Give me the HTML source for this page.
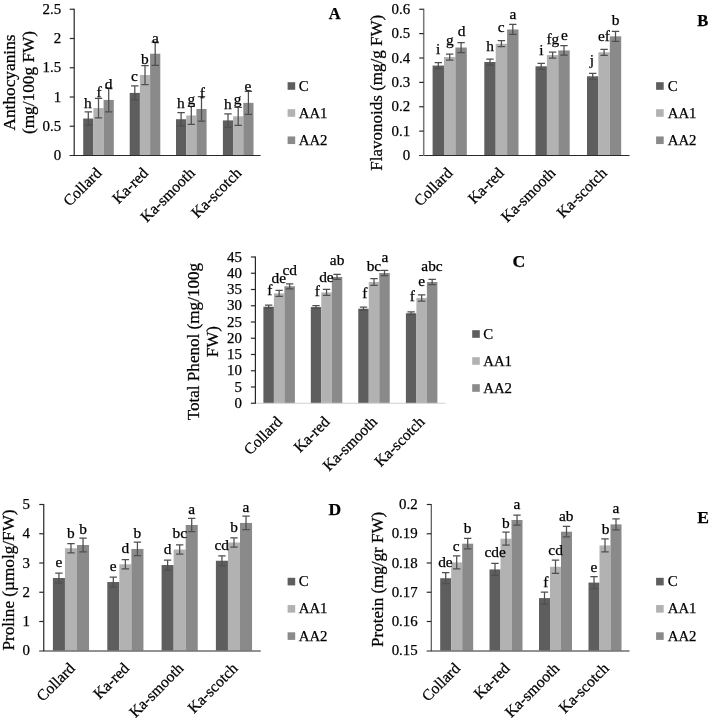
<!DOCTYPE html>
<html lang="en">
<head>
<meta charset="utf-8">
<title>Figure: biochemical traits of kale cultivars</title>
<style>
html,body{margin:0;padding:0;background:#fff;}
body{width:709px;height:718px;overflow:hidden;}
svg{display:block;filter:grayscale(1);}
svg text{font-family:"Liberation Serif", "Times New Roman", serif;fill:#000000;stroke:#000;stroke-width:0.25px;}
</style>
</head>
<body>
<svg width="709" height="718" viewBox="0 0 709 718">
<rect x="0" y="0" width="709" height="718" fill="#ffffff"/>
<g id="panel-A">
<rect x="83.2" y="118.53" width="10.2" height="36.97" fill="#5e5e5e"/>
<rect x="93.4" y="108.11" width="10.2" height="47.39" fill="#b2b2b2"/>
<rect x="103.6" y="99.93" width="10.2" height="55.57" fill="#8a8a8a"/>
<rect x="129.7" y="92.91" width="10.2" height="62.59" fill="#5e5e5e"/>
<rect x="139.9" y="75" width="10.2" height="80.5" fill="#b2b2b2"/>
<rect x="150.1" y="53.71" width="10.2" height="101.79" fill="#8a8a8a"/>
<rect x="176" y="119.23" width="10.2" height="36.27" fill="#5e5e5e"/>
<rect x="186.2" y="115.49" width="10.2" height="40.01" fill="#b2b2b2"/>
<rect x="196.4" y="108.99" width="10.2" height="46.51" fill="#8a8a8a"/>
<rect x="222.9" y="120.4" width="10.2" height="35.1" fill="#5e5e5e"/>
<rect x="233.1" y="116.31" width="10.2" height="39.19" fill="#b2b2b2"/>
<rect x="243.3" y="102.85" width="10.2" height="52.65" fill="#8a8a8a"/>
<path d="M88.3 111.93V125.13M84.6 111.93H92M84.6 125.13H92" stroke="#4f4f4f" stroke-width="1.25" fill="none"/>
<path d="M98.5 98.36V117.86M94.8 98.36H102.2M94.8 117.86H102.2" stroke="#4f4f4f" stroke-width="1.25" fill="none"/>
<path d="M108.7 87.93V111.93M105 87.93H112.4M105 111.93H112.4" stroke="#4f4f4f" stroke-width="1.25" fill="none"/>
<path d="M134.8 85.91V99.91M131.1 85.91H138.5M131.1 99.91H138.5" stroke="#4f4f4f" stroke-width="1.25" fill="none"/>
<path d="M145 65.5V84.5M141.3 65.5H148.7M141.3 84.5H148.7" stroke="#4f4f4f" stroke-width="1.25" fill="none"/>
<path d="M155.2 42.11V65.31M151.5 42.11H158.9M151.5 65.31H158.9" stroke="#4f4f4f" stroke-width="1.25" fill="none"/>
<path d="M181.1 112.53V125.93M177.4 112.53H184.8M177.4 125.93H184.8" stroke="#4f4f4f" stroke-width="1.25" fill="none"/>
<path d="M191.3 106.49V124.49M187.6 106.49H195M187.6 124.49H195" stroke="#4f4f4f" stroke-width="1.25" fill="none"/>
<path d="M201.5 96.74V121.24M197.8 96.74H205.2M197.8 121.24H205.2" stroke="#4f4f4f" stroke-width="1.25" fill="none"/>
<path d="M228 113.8V127M224.3 113.8H231.7M224.3 127H231.7" stroke="#4f4f4f" stroke-width="1.25" fill="none"/>
<path d="M238.2 107.31V125.31M234.5 107.31H241.9M234.5 125.31H241.9" stroke="#4f4f4f" stroke-width="1.25" fill="none"/>
<path d="M248.4 91.25V114.45M244.7 91.25H252.1M244.7 114.45H252.1" stroke="#4f4f4f" stroke-width="1.25" fill="none"/>
<path d="M69.6 155.5H260.6" stroke="#2a2a2a" stroke-width="1.0" fill="none"/>
<path d="M74.2 8.75V156" stroke="#262626" stroke-width="1.2" fill="none"/>
<text x="61.1" y="160.1" font-size="14.9" text-anchor="end">0</text>
<path d="M69.7 126.25H74.2" stroke="#2a2a2a" stroke-width="1.2" fill="none"/>
<text x="61.1" y="130.85" font-size="14.9" text-anchor="end">0.5</text>
<path d="M69.7 97H74.2" stroke="#2a2a2a" stroke-width="1.2" fill="none"/>
<text x="61.1" y="101.6" font-size="14.9" text-anchor="end">1</text>
<path d="M69.7 67.75H74.2" stroke="#2a2a2a" stroke-width="1.2" fill="none"/>
<text x="61.1" y="72.35" font-size="14.9" text-anchor="end">1.5</text>
<path d="M69.7 38.5H74.2" stroke="#2a2a2a" stroke-width="1.2" fill="none"/>
<text x="61.1" y="43.1" font-size="14.9" text-anchor="end">2</text>
<path d="M69.7 9.25H74.2" stroke="#2a2a2a" stroke-width="1.2" fill="none"/>
<text x="61.1" y="13.85" font-size="14.9" text-anchor="end">2.5</text>
<text x="87.85" y="107.7" font-size="15.4" text-anchor="middle">h</text>
<text x="99.1" y="96.5" font-size="15.4" text-anchor="middle">f</text>
<text x="108.5" y="88.7" font-size="15.4" text-anchor="middle">d</text>
<text x="134.5" y="81.06" font-size="15.4" text-anchor="middle">c</text>
<text x="144.8" y="63.8" font-size="15.4" text-anchor="middle">b</text>
<text x="155.3" y="43" font-size="15.4" text-anchor="middle">a</text>
<text x="180.9" y="108" font-size="15.4" text-anchor="middle">h</text>
<text x="191.3" y="104.2" font-size="15.4" text-anchor="middle">g</text>
<text x="202.4" y="97.8" font-size="15.4" text-anchor="middle">f</text>
<text x="227.9" y="108.9" font-size="15.4" text-anchor="middle">h</text>
<text x="237.6" y="104.2" font-size="15.4" text-anchor="middle">g</text>
<text x="248" y="91.2" font-size="15.4" text-anchor="middle">e</text>
<text transform="translate(102.5 174) rotate(-45)" font-size="15.6" text-anchor="end">Collard</text>
<text transform="translate(149.1 174) rotate(-45)" font-size="15.6" text-anchor="end">Ka-red</text>
<text transform="translate(195.7 174) rotate(-45)" font-size="15.6" text-anchor="end">Ka-smooth</text>
<text transform="translate(242.3 174) rotate(-45)" font-size="15.6" text-anchor="end">Ka-scotch</text>
<text transform="translate(14.5 82.5) rotate(-90)" font-size="17.3" text-anchor="middle">Anthocyanins</text>
<text transform="translate(33.5 82.5) rotate(-90)" font-size="17.3" text-anchor="middle">(mg/100g FW)</text>
<rect x="287.6" y="82.2" width="7.6" height="7.6" fill="#5e5e5e"/>
<text x="298.75" y="90.6" font-size="14.8">C</text>
<rect x="287.6" y="109.2" width="7.6" height="7.6" fill="#b2b2b2"/>
<text x="298.75" y="117.6" font-size="14.8">AA1</text>
<rect x="287.6" y="136.45" width="7.6" height="7.6" fill="#8a8a8a"/>
<text x="298.75" y="144.85" font-size="14.8">AA2</text>
<text x="328.8" y="19.1" font-size="16.5" font-weight="bold">A</text>
</g>
<g id="panel-B">
<rect x="432.6" y="65.56" width="11.4" height="89.94" fill="#5e5e5e"/>
<rect x="444" y="57.02" width="11.4" height="98.48" fill="#b2b2b2"/>
<rect x="455.4" y="47.52" width="11.4" height="107.98" fill="#8a8a8a"/>
<rect x="484.3" y="62" width="11.4" height="93.5" fill="#5e5e5e"/>
<rect x="495.7" y="43.74" width="11.4" height="111.76" fill="#b2b2b2"/>
<rect x="507.1" y="29.48" width="11.4" height="126.02" fill="#8a8a8a"/>
<rect x="535.5" y="66.29" width="11.4" height="89.21" fill="#5e5e5e"/>
<rect x="546.9" y="55.08" width="11.4" height="100.42" fill="#b2b2b2"/>
<rect x="558.3" y="50.44" width="11.4" height="105.06" fill="#8a8a8a"/>
<rect x="587" y="76.28" width="11.4" height="79.22" fill="#5e5e5e"/>
<rect x="598.4" y="52.25" width="11.4" height="103.25" fill="#b2b2b2"/>
<rect x="609.8" y="36.31" width="11.4" height="119.19" fill="#8a8a8a"/>
<path d="M438.3 62.56V68.56M434.6 62.56H442M434.6 68.56H442" stroke="#4f4f4f" stroke-width="1.25" fill="none"/>
<path d="M449.7 54.02V60.02M446 54.02H453.4M446 60.02H453.4" stroke="#4f4f4f" stroke-width="1.25" fill="none"/>
<path d="M461.1 42.52V52.52M457.4 42.52H464.8M457.4 52.52H464.8" stroke="#4f4f4f" stroke-width="1.25" fill="none"/>
<path d="M490 59V65M486.3 59H493.7M486.3 65H493.7" stroke="#4f4f4f" stroke-width="1.25" fill="none"/>
<path d="M501.4 40.74V46.74M497.7 40.74H505.1M497.7 46.74H505.1" stroke="#4f4f4f" stroke-width="1.25" fill="none"/>
<path d="M512.8 24.48V34.48M509.1 24.48H516.5M509.1 34.48H516.5" stroke="#4f4f4f" stroke-width="1.25" fill="none"/>
<path d="M541.2 63.29V69.29M537.5 63.29H544.9M537.5 69.29H544.9" stroke="#4f4f4f" stroke-width="1.25" fill="none"/>
<path d="M552.6 52.08V58.08M548.9 52.08H556.3M548.9 58.08H556.3" stroke="#4f4f4f" stroke-width="1.25" fill="none"/>
<path d="M564 45.69V55.19M560.3 45.69H567.7M560.3 55.19H567.7" stroke="#4f4f4f" stroke-width="1.25" fill="none"/>
<path d="M592.7 73.28V79.28M589 73.28H596.4M589 79.28H596.4" stroke="#4f4f4f" stroke-width="1.25" fill="none"/>
<path d="M604.1 49.25V55.25M600.4 49.25H607.8M600.4 55.25H607.8" stroke="#4f4f4f" stroke-width="1.25" fill="none"/>
<path d="M615.5 31.31V41.31M611.8 31.31H619.2M611.8 41.31H619.2" stroke="#4f4f4f" stroke-width="1.25" fill="none"/>
<path d="M419.1 155.5H629.5" stroke="#2a2a2a" stroke-width="1.1" fill="none"/>
<path d="M423.7 8.75V156" stroke="#777777" stroke-width="1.5" fill="none"/>
<text x="410.1" y="160.1" font-size="14.9" text-anchor="end">0</text>
<path d="M419.2 131.12H423.7" stroke="#2a2a2a" stroke-width="1.2" fill="none"/>
<text x="410.1" y="135.72" font-size="14.9" text-anchor="end">0.1</text>
<path d="M419.2 106.75H423.7" stroke="#2a2a2a" stroke-width="1.2" fill="none"/>
<text x="410.1" y="111.35" font-size="14.9" text-anchor="end">0.2</text>
<path d="M419.2 82.38H423.7" stroke="#2a2a2a" stroke-width="1.2" fill="none"/>
<text x="410.1" y="86.97" font-size="14.9" text-anchor="end">0.3</text>
<path d="M419.2 58H423.7" stroke="#2a2a2a" stroke-width="1.2" fill="none"/>
<text x="410.1" y="62.6" font-size="14.9" text-anchor="end">0.4</text>
<path d="M419.2 33.62H423.7" stroke="#2a2a2a" stroke-width="1.2" fill="none"/>
<text x="410.1" y="38.23" font-size="14.9" text-anchor="end">0.5</text>
<path d="M419.2 9.25H423.7" stroke="#2a2a2a" stroke-width="1.2" fill="none"/>
<text x="410.1" y="13.85" font-size="14.9" text-anchor="end">0.6</text>
<text x="438.1" y="54.3" font-size="15.4" text-anchor="middle">i</text>
<text x="449.9" y="45.4" font-size="15.4" text-anchor="middle">g</text>
<text x="461.5" y="36.4" font-size="15.4" text-anchor="middle">d</text>
<text x="490" y="51.05" font-size="15.4" text-anchor="middle">h</text>
<text x="501.1" y="32.2" font-size="15.4" text-anchor="middle">c</text>
<text x="512.8" y="18.6" font-size="15.4" text-anchor="middle">a</text>
<text x="541.5" y="54.7" font-size="15.4" text-anchor="middle">i</text>
<text x="552.9" y="43.6" font-size="15.4" text-anchor="middle">fg</text>
<text x="564.3" y="39.8" font-size="15.4" text-anchor="middle">e</text>
<text x="591.9" y="65.2" font-size="15.4" text-anchor="middle">j</text>
<text x="604" y="40.9" font-size="15.4" text-anchor="middle">ef</text>
<text x="615.7" y="25.4" font-size="15.4" text-anchor="middle">b</text>
<text transform="translate(453.43 174) rotate(-45)" font-size="15.6" text-anchor="end">Collard</text>
<text transform="translate(504.88 174) rotate(-45)" font-size="15.6" text-anchor="end">Ka-red</text>
<text transform="translate(556.33 174) rotate(-45)" font-size="15.6" text-anchor="end">Ka-smooth</text>
<text transform="translate(607.77 174) rotate(-45)" font-size="15.6" text-anchor="end">Ka-scotch</text>
<text transform="translate(382.3 92.75) rotate(-90)" font-size="17.0" text-anchor="middle">Flavonoids (mg/g FW)</text>
<rect x="656.1" y="82.2" width="7.6" height="7.6" fill="#5e5e5e"/>
<text x="667.75" y="90.6" font-size="14.8">C</text>
<rect x="656.1" y="109.2" width="7.6" height="7.6" fill="#b2b2b2"/>
<text x="667.75" y="117.6" font-size="14.8">AA1</text>
<rect x="656.1" y="136.45" width="7.6" height="7.6" fill="#8a8a8a"/>
<text x="667.75" y="144.85" font-size="14.8">AA2</text>
<text x="697.2" y="25.8" font-size="16.5" font-weight="bold">B</text>
</g>
<g id="panel-C">
<rect x="263.4" y="306.73" width="10.5" height="96.52" fill="#5e5e5e"/>
<rect x="273.9" y="293.4" width="10.5" height="109.85" fill="#b2b2b2"/>
<rect x="284.4" y="286.25" width="10.5" height="117" fill="#8a8a8a"/>
<rect x="310.8" y="307.05" width="10.5" height="96.2" fill="#5e5e5e"/>
<rect x="321.3" y="292.43" width="10.5" height="110.82" fill="#b2b2b2"/>
<rect x="331.8" y="276.99" width="10.5" height="126.26" fill="#8a8a8a"/>
<rect x="358.25" y="308.74" width="10.5" height="94.51" fill="#5e5e5e"/>
<rect x="368.75" y="282.02" width="10.5" height="121.23" fill="#b2b2b2"/>
<rect x="379.25" y="272.99" width="10.5" height="130.26" fill="#8a8a8a"/>
<rect x="405.9" y="313.23" width="10.5" height="90.02" fill="#5e5e5e"/>
<rect x="416.4" y="297.95" width="10.5" height="105.3" fill="#b2b2b2"/>
<rect x="426.9" y="282.02" width="10.5" height="121.23" fill="#8a8a8a"/>
<path d="M268.65 305.23V308.23M264.95 305.23H272.35M264.95 308.23H272.35" stroke="#4f4f4f" stroke-width="1.25" fill="none"/>
<path d="M279.15 290.4V296.4M275.45 290.4H282.85M275.45 296.4H282.85" stroke="#4f4f4f" stroke-width="1.25" fill="none"/>
<path d="M289.65 283.75V288.75M285.95 283.75H293.35M285.95 288.75H293.35" stroke="#4f4f4f" stroke-width="1.25" fill="none"/>
<path d="M316.05 305.55V308.55M312.35 305.55H319.75M312.35 308.55H319.75" stroke="#4f4f4f" stroke-width="1.25" fill="none"/>
<path d="M326.55 289.43V295.43M322.85 289.43H330.25M322.85 295.43H330.25" stroke="#4f4f4f" stroke-width="1.25" fill="none"/>
<path d="M337.05 274.49V279.49M333.35 274.49H340.75M333.35 279.49H340.75" stroke="#4f4f4f" stroke-width="1.25" fill="none"/>
<path d="M363.5 307.24V310.24M359.8 307.24H367.2M359.8 310.24H367.2" stroke="#4f4f4f" stroke-width="1.25" fill="none"/>
<path d="M374 278.72V285.32M370.3 278.72H377.7M370.3 285.32H377.7" stroke="#4f4f4f" stroke-width="1.25" fill="none"/>
<path d="M384.5 270.39V275.59M380.8 270.39H388.2M380.8 275.59H388.2" stroke="#4f4f4f" stroke-width="1.25" fill="none"/>
<path d="M411.15 311.93V314.53M407.45 311.93H414.85M407.45 314.53H414.85" stroke="#4f4f4f" stroke-width="1.25" fill="none"/>
<path d="M421.65 294.75V301.15M417.95 294.75H425.35M417.95 301.15H425.35" stroke="#4f4f4f" stroke-width="1.25" fill="none"/>
<path d="M432.15 279.42V284.62M428.45 279.42H435.85M428.45 284.62H435.85" stroke="#4f4f4f" stroke-width="1.25" fill="none"/>
<path d="M255.4 403.25H445.25" stroke="#d0d0d0" stroke-width="1.0" fill="none"/>
<path d="M255.4 256.5V403.75" stroke="#262626" stroke-width="1.2" fill="none"/>
<path d="M250.9 403.25H255.4" stroke="#2a2a2a" stroke-width="1.2" fill="none"/>
<text x="242" y="407.85" font-size="14.9" text-anchor="end">0</text>
<path d="M250.9 387H255.4" stroke="#2a2a2a" stroke-width="1.2" fill="none"/>
<text x="242" y="391.6" font-size="14.9" text-anchor="end">5</text>
<path d="M250.9 370.75H255.4" stroke="#2a2a2a" stroke-width="1.2" fill="none"/>
<text x="242" y="375.35" font-size="14.9" text-anchor="end">10</text>
<path d="M250.9 354.5H255.4" stroke="#2a2a2a" stroke-width="1.2" fill="none"/>
<text x="242" y="359.1" font-size="14.9" text-anchor="end">15</text>
<path d="M250.9 338.25H255.4" stroke="#2a2a2a" stroke-width="1.2" fill="none"/>
<text x="242" y="342.85" font-size="14.9" text-anchor="end">20</text>
<path d="M250.9 322H255.4" stroke="#2a2a2a" stroke-width="1.2" fill="none"/>
<text x="242" y="326.6" font-size="14.9" text-anchor="end">25</text>
<path d="M250.9 305.75H255.4" stroke="#2a2a2a" stroke-width="1.2" fill="none"/>
<text x="242" y="310.35" font-size="14.9" text-anchor="end">30</text>
<path d="M250.9 289.5H255.4" stroke="#2a2a2a" stroke-width="1.2" fill="none"/>
<text x="242" y="294.1" font-size="14.9" text-anchor="end">35</text>
<path d="M250.9 273.25H255.4" stroke="#2a2a2a" stroke-width="1.2" fill="none"/>
<text x="242" y="277.85" font-size="14.9" text-anchor="end">40</text>
<path d="M250.9 257H255.4" stroke="#2a2a2a" stroke-width="1.2" fill="none"/>
<text x="242" y="261.6" font-size="14.9" text-anchor="end">45</text>
<text x="269.8" y="295.4" font-size="15.4" text-anchor="middle">f</text>
<text x="278.8" y="282.7" font-size="15.4" text-anchor="middle">de</text>
<text x="289.7" y="275.1" font-size="15.4" text-anchor="middle">cd</text>
<text x="317.2" y="296.2" font-size="15.4" text-anchor="middle">f</text>
<text x="326.4" y="281.6" font-size="15.4" text-anchor="middle">de</text>
<text x="337.1" y="265.2" font-size="15.4" text-anchor="middle">ab</text>
<text x="364.8" y="297.6" font-size="15.4" text-anchor="middle">f</text>
<text x="373.9" y="271.3" font-size="15.4" text-anchor="middle">bc</text>
<text x="384.8" y="262.4" font-size="15.4" text-anchor="middle">a</text>
<text x="412.4" y="301.3" font-size="15.4" text-anchor="middle">f</text>
<text x="421.7" y="286.1" font-size="15.4" text-anchor="middle">e</text>
<text x="432" y="270.85" font-size="15.4" text-anchor="middle">abc</text>
<text transform="translate(283.13 422.75) rotate(-45)" font-size="15.6" text-anchor="end">Collard</text>
<text transform="translate(330.59 422.75) rotate(-45)" font-size="15.6" text-anchor="end">Ka-red</text>
<text transform="translate(378.06 422.75) rotate(-45)" font-size="15.6" text-anchor="end">Ka-smooth</text>
<text transform="translate(425.52 422.75) rotate(-45)" font-size="15.6" text-anchor="end">Ka-scotch</text>
<text transform="translate(199.2 341.6) rotate(-90)" font-size="17.1" text-anchor="middle">Total Phenol (mg/100g</text>
<text transform="translate(218 341.6) rotate(-90)" font-size="17.1" text-anchor="middle">FW)</text>
<rect x="472.2" y="330.2" width="7.6" height="7.6" fill="#5e5e5e"/>
<text x="483.25" y="338.6" font-size="14.8">C</text>
<rect x="472.2" y="357.2" width="7.6" height="7.6" fill="#b2b2b2"/>
<text x="483.25" y="365.6" font-size="14.8">AA1</text>
<rect x="472.2" y="384.2" width="7.6" height="7.6" fill="#8a8a8a"/>
<text x="483.25" y="392.6" font-size="14.8">AA2</text>
<text x="512.6" y="267.3" font-size="17.7" font-weight="bold">C</text>
</g>
<g id="panel-D">
<rect x="52.9" y="578.01" width="12.05" height="72.74" fill="#5e5e5e"/>
<rect x="64.95" y="548.26" width="12.05" height="102.49" fill="#b2b2b2"/>
<rect x="77" y="545.01" width="12.05" height="105.74" fill="#8a8a8a"/>
<rect x="107.3" y="582.01" width="12.05" height="68.74" fill="#5e5e5e"/>
<rect x="119.35" y="564.26" width="12.05" height="86.49" fill="#b2b2b2"/>
<rect x="131.4" y="548.96" width="12.05" height="101.79" fill="#8a8a8a"/>
<rect x="161.6" y="565.05" width="12.05" height="85.7" fill="#5e5e5e"/>
<rect x="173.65" y="549.54" width="12.05" height="101.21" fill="#b2b2b2"/>
<rect x="185.7" y="524.98" width="12.05" height="125.77" fill="#8a8a8a"/>
<rect x="215.9" y="560.75" width="12.05" height="90" fill="#5e5e5e"/>
<rect x="227.95" y="542.52" width="12.05" height="108.23" fill="#b2b2b2"/>
<rect x="240" y="522.93" width="12.05" height="127.82" fill="#8a8a8a"/>
<path d="M58.92 573.01V583.01M55.22 573.01H62.62M55.22 583.01H62.62" stroke="#4f4f4f" stroke-width="1.25" fill="none"/>
<path d="M70.97 543.66V552.86M67.27 543.66H74.67M67.27 552.86H74.67" stroke="#4f4f4f" stroke-width="1.25" fill="none"/>
<path d="M83.03 538.11V551.91M79.33 538.11H86.73M79.33 551.91H86.73" stroke="#4f4f4f" stroke-width="1.25" fill="none"/>
<path d="M113.33 577.01V587.01M109.62 577.01H117.03M109.62 587.01H117.03" stroke="#4f4f4f" stroke-width="1.25" fill="none"/>
<path d="M125.38 559.66V568.86M121.67 559.66H129.07M121.67 568.86H129.07" stroke="#4f4f4f" stroke-width="1.25" fill="none"/>
<path d="M137.43 542.21V555.71M133.73 542.21H141.12M133.73 555.71H141.12" stroke="#4f4f4f" stroke-width="1.25" fill="none"/>
<path d="M167.62 560.05V570.05M163.93 560.05H171.32M163.93 570.05H171.32" stroke="#4f4f4f" stroke-width="1.25" fill="none"/>
<path d="M179.68 544.94V554.14M175.98 544.94H183.38M175.98 554.14H183.38" stroke="#4f4f4f" stroke-width="1.25" fill="none"/>
<path d="M191.72 518.38V531.58M188.03 518.38H195.42M188.03 531.58H195.42" stroke="#4f4f4f" stroke-width="1.25" fill="none"/>
<path d="M221.93 555.75V565.75M218.23 555.75H225.62M218.23 565.75H225.62" stroke="#4f4f4f" stroke-width="1.25" fill="none"/>
<path d="M233.98 537.92V547.12M230.28 537.92H237.68M230.28 547.12H237.68" stroke="#4f4f4f" stroke-width="1.25" fill="none"/>
<path d="M246.03 516.18V529.68M242.33 516.18H249.72M242.33 529.68H249.72" stroke="#4f4f4f" stroke-width="1.25" fill="none"/>
<path d="M39.15 651H260.75" stroke="#6e6e6e" stroke-width="1.5" fill="none"/>
<path d="M43.75 504V651.25" stroke="#262626" stroke-width="1.2" fill="none"/>
<text x="29.95" y="655.35" font-size="14.9" text-anchor="end">0</text>
<path d="M39.25 621.5H43.75" stroke="#2a2a2a" stroke-width="1.2" fill="none"/>
<text x="29.95" y="626.1" font-size="14.9" text-anchor="end">1</text>
<path d="M39.25 592.25H43.75" stroke="#2a2a2a" stroke-width="1.2" fill="none"/>
<text x="29.95" y="596.85" font-size="14.9" text-anchor="end">2</text>
<path d="M39.25 563H43.75" stroke="#2a2a2a" stroke-width="1.2" fill="none"/>
<text x="29.95" y="567.6" font-size="14.9" text-anchor="end">3</text>
<path d="M39.25 533.75H43.75" stroke="#2a2a2a" stroke-width="1.2" fill="none"/>
<text x="29.95" y="538.35" font-size="14.9" text-anchor="end">4</text>
<path d="M39.25 504.5H43.75" stroke="#2a2a2a" stroke-width="1.2" fill="none"/>
<text x="29.95" y="509.1" font-size="14.9" text-anchor="end">5</text>
<text x="58.9" y="567.1" font-size="15.4" text-anchor="middle">e</text>
<text x="70.9" y="537.6" font-size="15.4" text-anchor="middle">b</text>
<text x="83" y="533.6" font-size="15.4" text-anchor="middle">b</text>
<text x="113.2" y="570.5" font-size="15.4" text-anchor="middle">e</text>
<text x="125.35" y="553.4" font-size="15.4" text-anchor="middle">d</text>
<text x="137.3" y="537.6" font-size="15.4" text-anchor="middle">b</text>
<text x="167.65" y="553.9" font-size="15.4" text-anchor="middle">d</text>
<text x="179.8" y="537.6" font-size="15.4" text-anchor="middle">bc</text>
<text x="191.6" y="514.4" font-size="15.4" text-anchor="middle">a</text>
<text x="221.7" y="549.7" font-size="15.4" text-anchor="middle">cd</text>
<text x="234" y="531.6" font-size="15.4" text-anchor="middle">b</text>
<text x="246" y="512" font-size="15.4" text-anchor="middle">a</text>
<text transform="translate(75.88 669.25) rotate(-45)" font-size="15.6" text-anchor="end">Collard</text>
<text transform="translate(130.12 669.25) rotate(-45)" font-size="15.6" text-anchor="end">Ka-red</text>
<text transform="translate(184.38 669.25) rotate(-45)" font-size="15.6" text-anchor="end">Ka-smooth</text>
<text transform="translate(238.62 669.25) rotate(-45)" font-size="15.6" text-anchor="end">Ka-scotch</text>
<text transform="translate(13.6 580) rotate(-90)" font-size="17.2" text-anchor="middle">Proline (µmolg/FW)</text>
<rect x="287.6" y="577.8" width="7.6" height="7.6" fill="#5e5e5e"/>
<text x="298.75" y="586.2" font-size="14.8">C</text>
<rect x="287.6" y="605.05" width="7.6" height="7.6" fill="#b2b2b2"/>
<text x="298.75" y="613.45" font-size="14.8">AA1</text>
<rect x="287.6" y="632.3" width="7.6" height="7.6" fill="#8a8a8a"/>
<text x="298.75" y="640.7" font-size="14.8">AA2</text>
<text x="328.4" y="514.6" font-size="17.5" font-weight="bold">D</text>
</g>
<g id="panel-E">
<rect x="440.2" y="578.21" width="11" height="72.54" fill="#5e5e5e"/>
<rect x="451.2" y="562.41" width="11" height="88.34" fill="#b2b2b2"/>
<rect x="462.2" y="543.7" width="11" height="107.05" fill="#8a8a8a"/>
<rect x="489.5" y="569.43" width="11" height="81.32" fill="#5e5e5e"/>
<rect x="500.5" y="538.72" width="11" height="112.03" fill="#b2b2b2"/>
<rect x="511.5" y="520" width="11" height="130.75" fill="#8a8a8a"/>
<rect x="539" y="598.1" width="11" height="52.65" fill="#5e5e5e"/>
<rect x="550" y="566.8" width="11" height="83.95" fill="#b2b2b2"/>
<rect x="561" y="531.7" width="11" height="119.05" fill="#8a8a8a"/>
<rect x="588.5" y="582.6" width="11" height="68.15" fill="#5e5e5e"/>
<rect x="599.5" y="545.45" width="11" height="105.3" fill="#b2b2b2"/>
<rect x="610.5" y="524.39" width="11" height="126.36" fill="#8a8a8a"/>
<path d="M445.7 572.71V583.71M442 572.71H449.4M442 583.71H449.4" stroke="#4f4f4f" stroke-width="1.25" fill="none"/>
<path d="M456.7 555.91V568.91M453 555.91H460.4M453 568.91H460.4" stroke="#4f4f4f" stroke-width="1.25" fill="none"/>
<path d="M467.7 538.45V548.95M464 538.45H471.4M464 548.95H471.4" stroke="#4f4f4f" stroke-width="1.25" fill="none"/>
<path d="M495 563.43V575.43M491.3 563.43H498.7M491.3 575.43H498.7" stroke="#4f4f4f" stroke-width="1.25" fill="none"/>
<path d="M506 532.22V545.22M502.3 532.22H509.7M502.3 545.22H509.7" stroke="#4f4f4f" stroke-width="1.25" fill="none"/>
<path d="M517 515V525M513.3 515H520.7M513.3 525H520.7" stroke="#4f4f4f" stroke-width="1.25" fill="none"/>
<path d="M544.5 592.1V604.1M540.8 592.1H548.2M540.8 604.1H548.2" stroke="#4f4f4f" stroke-width="1.25" fill="none"/>
<path d="M555.5 560.2V573.4M551.8 560.2H559.2M551.8 573.4H559.2" stroke="#4f4f4f" stroke-width="1.25" fill="none"/>
<path d="M566.5 526.45V536.95M562.8 526.45H570.2M562.8 536.95H570.2" stroke="#4f4f4f" stroke-width="1.25" fill="none"/>
<path d="M594 576.6V588.6M590.3 576.6H597.7M590.3 588.6H597.7" stroke="#4f4f4f" stroke-width="1.25" fill="none"/>
<path d="M605 538.95V551.95M601.3 538.95H608.7M601.3 551.95H608.7" stroke="#4f4f4f" stroke-width="1.25" fill="none"/>
<path d="M616 518.99V529.79M612.3 518.99H619.7M612.3 529.79H619.7" stroke="#4f4f4f" stroke-width="1.25" fill="none"/>
<path d="M426.65 651H629.5" stroke="#6e6e6e" stroke-width="1.5" fill="none"/>
<path d="M431.25 504V651.25" stroke="#333333" stroke-width="1.0" fill="none"/>
<text x="417.7" y="655.35" font-size="14.9" text-anchor="end">0.15</text>
<path d="M426.75 621.5H431.25" stroke="#2a2a2a" stroke-width="1.2" fill="none"/>
<text x="417.7" y="626.1" font-size="14.9" text-anchor="end">0.16</text>
<path d="M426.75 592.25H431.25" stroke="#2a2a2a" stroke-width="1.2" fill="none"/>
<text x="417.7" y="596.85" font-size="14.9" text-anchor="end">0.17</text>
<path d="M426.75 563H431.25" stroke="#2a2a2a" stroke-width="1.2" fill="none"/>
<text x="417.7" y="567.6" font-size="14.9" text-anchor="end">0.18</text>
<path d="M426.75 533.75H431.25" stroke="#2a2a2a" stroke-width="1.2" fill="none"/>
<text x="417.7" y="538.35" font-size="14.9" text-anchor="end">0.19</text>
<path d="M426.75 504.5H431.25" stroke="#2a2a2a" stroke-width="1.2" fill="none"/>
<text x="417.7" y="509.1" font-size="14.9" text-anchor="end">0.2</text>
<text x="445.4" y="567.3" font-size="15.4" text-anchor="middle">de</text>
<text x="456.1" y="550.9" font-size="15.4" text-anchor="middle">c</text>
<text x="467.5" y="532.7" font-size="15.4" text-anchor="middle">b</text>
<text x="495.1" y="556.7" font-size="15.4" text-anchor="middle">cde</text>
<text x="505.9" y="527.8" font-size="15.4" text-anchor="middle">b</text>
<text x="517" y="509" font-size="15.4" text-anchor="middle">a</text>
<text x="545.8" y="586.65" font-size="15.4" text-anchor="middle">f</text>
<text x="555.6" y="554.9" font-size="15.4" text-anchor="middle">cd</text>
<text x="566.3" y="520.9" font-size="15.4" text-anchor="middle">ab</text>
<text x="594" y="571.6" font-size="15.4" text-anchor="middle">e</text>
<text x="605.7" y="534.3" font-size="15.4" text-anchor="middle">b</text>
<text x="616" y="512.9" font-size="15.4" text-anchor="middle">a</text>
<text transform="translate(461.03 669.25) rotate(-45)" font-size="15.6" text-anchor="end">Collard</text>
<text transform="translate(510.59 669.25) rotate(-45)" font-size="15.6" text-anchor="end">Ka-red</text>
<text transform="translate(560.16 669.25) rotate(-45)" font-size="15.6" text-anchor="end">Ka-smooth</text>
<text transform="translate(609.72 669.25) rotate(-45)" font-size="15.6" text-anchor="end">Ka-scotch</text>
<text transform="translate(382.9 579.4) rotate(-90)" font-size="17.0" text-anchor="middle">Protein (mg/gr FW)</text>
<rect x="656.1" y="577.8" width="7.6" height="7.6" fill="#5e5e5e"/>
<text x="667.75" y="586.2" font-size="14.8">C</text>
<rect x="656.1" y="605.05" width="7.6" height="7.6" fill="#b2b2b2"/>
<text x="667.75" y="613.45" font-size="14.8">AA1</text>
<rect x="656.1" y="632.3" width="7.6" height="7.6" fill="#8a8a8a"/>
<text x="667.75" y="640.7" font-size="14.8">AA2</text>
<text x="697.2" y="522.5" font-size="17.6" font-weight="bold">E</text>
</g>
</svg>
</body>
</html>
